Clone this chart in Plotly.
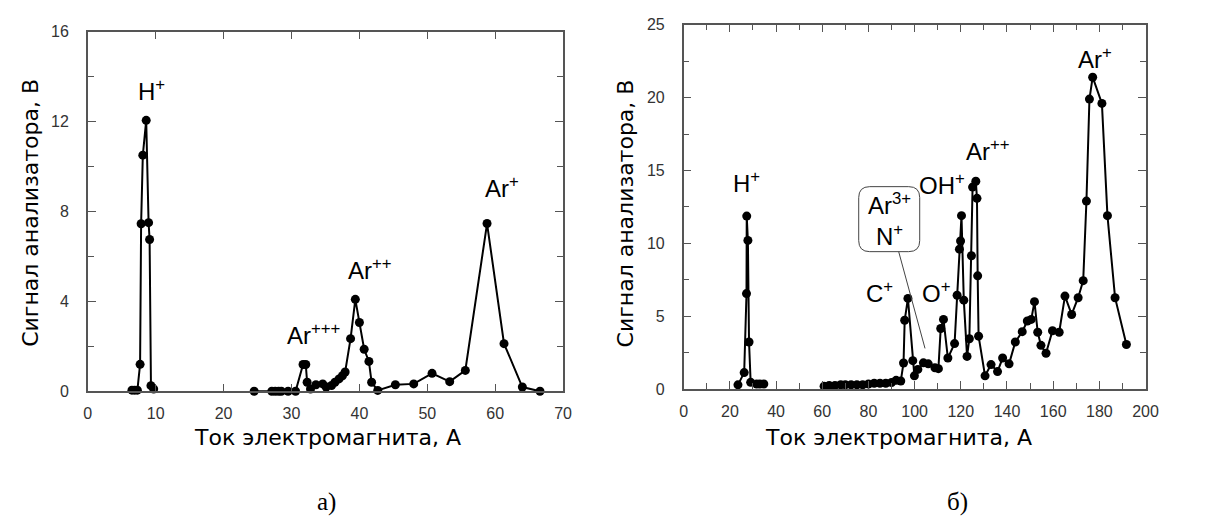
import plotly.graph_objects as go

# (а) spectrum: magnet current, A  vs  analyser signal, V
# None separates the two scanned current ranges
cur_a = [6.5, 6.9, 7.3, 7.7, 7.85, 8.1, 8.6, 8.95, 9.1, 9.3, 9.7, None,
         24.5, 27.1, 27.6, 28.1, 28.5, 29.5, 30.6, 31.7, 32.1, 32.3, 32.8,
         33.6, 34.6, 35.1, 35.9, 36.4, 37.0, 37.5, 37.9, 38.7, 39.4, 40.0,
         40.7, 41.4, 41.8, 42.7, 45.3, 48.0, 50.7, 53.3, 55.6, 58.8, 61.3,
         64.0, 66.6]
sig_a = [0.05, 0.05, 0.05, 1.2, 7.45, 10.5, 12.05, 7.5, 6.75, 0.25, 0.1, None,
         0.0, 0.0, 0.0, 0.0, 0.0, 0.0, 0.0, 1.19, 1.19, 0.4, 0.1,
         0.29, 0.33, 0.19, 0.26, 0.4, 0.55, 0.69, 0.86, 2.34, 4.09, 3.06,
         1.87, 1.33, 0.4, 0.04, 0.29, 0.33, 0.8, 0.43, 0.93, 7.46, 2.12,
         0.19, 0.0]

# (б) spectrum
cur_b = [23.5, 26.2, 27.2, 27.3, 27.8, 28.3, 29.0, 31.6, 33.0, 34.7, None,
         60.8, 63.0, 65.5, 68.0, 70.0, 72.5, 75.0, 77.5, 80.0, 82.5, 85.0,
         87.5, 90.0, 92.0, 94.0,
         95.2, 95.7, 97.1, 99.2, 99.9, 101.4, 103.8, 105.9, 108.8, 110.3,
         111.3, 112.5, 114.4, 117.3, 118.4, 119.4, 119.9, 120.3, 121.3,
         122.7, 123.7, 124.6, 125.1, 126.5, 127.0, 127.3, 127.7, 130.5,
         133.1, 135.9, 138.1, 140.9, 143.6, 146.6, 148.8, 150.5, 151.9,
         153.3, 154.7, 156.9, 159.7, 162.6, 165.1, 168.0, 170.8, 173.0,
         174.4, 175.7, 177.1, 181.1, 183.5, 186.8, 191.7]
sig_b = [0.29, 1.13, 6.55, 11.87, 10.2, 3.23, 0.46, 0.35, 0.35, 0.35, None,
         0.2, 0.25, 0.25, 0.3, 0.3, 0.3, 0.3, 0.3, 0.35, 0.4, 0.4,
         0.4, 0.45, 0.6, 0.55,
         1.79, 4.72, 6.22, 1.95, 0.91, 1.35, 1.8, 1.73, 1.46, 1.4,
         4.16, 4.78, 2.13, 3.12, 6.44, 9.6, 10.16, 11.9, 6.1,
         2.24, 3.45, 9.15, 13.86, 14.26, 13.09, 7.77, 3.63, 0.91,
         1.68, 1.2, 2.13, 1.73, 3.23, 3.94, 4.67, 4.78, 6.0,
         3.9, 3.0, 2.46, 4.0, 3.9, 6.38, 5.12, 6.27, 7.44,
         12.9, 19.9, 21.4, 19.6, 11.9, 6.27, 3.06]

# peak labels: (text, current, signal)
labels_a = [("H<sup>+</sup>", 9.4, 13.4), ("Ar<sup>+++</sup>", 33.2, 2.55),
            ("Ar<sup>++</sup>", 41.6, 5.42), ("Ar<sup>+</sup>", 61.0, 9.08)]
labels_b = [("H<sup>+</sup>", 27.3, 14.2), ("C<sup>+</sup>", 85.0, 6.67),
            ("O<sup>+</sup>", 109.2, 6.67), ("OH<sup>+</sup>", 112.0, 14.08),
            ("Ar<sup>++</sup>", 131.9, 16.4), ("Ar<sup>+</sup>", 178.2, 22.7)]
boxed_label = ("Ar<sup>3+</sup><br>N<sup>+</sup>", 89.0, 11.66)
leader = (93.1, 9.43, 104.5, 2.79)

FONT = "Arial, Liberation Sans, sans-serif"
TITLE_FONT = "DejaVu Sans, Verdana, sans-serif"
AX = "#555555"
W, H = 1219, 530

fig = go.Figure()
for xs, ys, xa, ya in [(cur_a, sig_a, "x", "y"), (cur_b, sig_b, "x2", "y2")]:
    fig.add_trace(go.Scatter(
        x=xs, y=ys, xaxis=xa, yaxis=ya, mode="lines+markers",
        line=dict(color="black", width=2),
        marker=dict(color="black", size=9),
        connectgaps=False, cliponaxis=False, showlegend=False,
        hoverinfo="skip"))

lab_font = dict(family=FONT, size=24, color="black")
ann = []
for txt, x, y in labels_a:
    ann.append(dict(text=txt, x=x, y=y, xref="x", yref="y", showarrow=False,
                    xanchor="center", yanchor="middle", font=lab_font))
for txt, x, y in labels_b:
    ann.append(dict(text=txt, x=x, y=y, xref="x2", yref="y2", showarrow=False,
                    xanchor="center", yanchor="middle", font=lab_font))
ann.append(dict(text=boxed_label[0], x=boxed_label[1], y=boxed_label[2],
                xref="x2", yref="y2", showarrow=False, xanchor="center",
                yanchor="middle", font=lab_font))

titles = dict(family=TITLE_FONT, size=22, color="black")

def paper_text(txt, px, py, font, angle=0):
    return dict(text=txt, x=px / W, y=1 - py / H, xref="paper", yref="paper",
                xanchor="center", yanchor="middle", showarrow=False,
                textangle=angle, font=font)

ann += [
    paper_text("Ток электромагнита, А", 328, 444, titles),
    paper_text("Ток электромагнита, А", 907, 444, titles),
    paper_text("Сигнал анализатора, В", 27, 212, titles, -90),
    paper_text("Сигнал анализатора, В", 630, 212, titles, -90),
]
serif = dict(family="Liberation Serif, Times New Roman, serif", size=25,
             color="black")
ann += [paper_text("а)", 327, 510, serif), paper_text("б)", 967, 510, serif)]

# rounded frame around the Ar3+/N+ label, sized in pixels around its centre
w, h, r = 61, 65, 11
hx, hy = w / 2, h / 2
box_path = (f"M {-hx + r},{hy} L {hx - r},{hy} Q {hx},{hy} {hx},{hy - r} "
            f"L {hx},{-hy + r} Q {hx},{-hy} {hx - r},{-hy} "
            f"L {-hx + r},{-hy} Q {-hx},{-hy} {-hx},{-hy + r} "
            f"L {-hx},{hy - r} Q {-hx},{hy} {-hx + r},{hy} Z")
shapes = [
    dict(type="path", xref="x2", yref="y2", xsizemode="pixel", ysizemode="pixel",
         xanchor=boxed_label[1], yanchor=boxed_label[2], path=box_path,
         line=dict(color="#444444", width=1)),
    dict(type="line", xref="x2", yref="y2", x0=leader[0], y0=leader[1],
         x1=leader[2], y1=leader[3], line=dict(color="#444444", width=1)),
]

def axis(rng, dtick, minor_dtick, domain, anchor, standoff):
    d = dict(range=rng, domain=domain, anchor=anchor, dtick=dtick, tick0=0,
             ticks="inside", ticklen=8, tickwidth=1, tickcolor=AX,
             showline=True, linecolor=AX, linewidth=1.5, mirror="allticks",
             showgrid=False, zeroline=False, fixedrange=True,
             ticklabelstandoff=standoff,
             tickfont=dict(family=FONT, size=16, color="#333333"))
    if minor_dtick:
        d["minor"] = dict(dtick=minor_dtick, tick0=0, ticks="inside",
                          ticklen=6, tickcolor=AX, showgrid=False)
    return d

fig.update_layout(
    width=W, height=H, margin=dict(l=0, r=0, t=0, b=0),
    paper_bgcolor="white", plot_bgcolor="white",
    xaxis=axis([0, 70], 10, None, [85 / W, 567 / W], "y", 7),
    yaxis=axis([0, 16], 4, 2, [1 - 396 / H, 1 - 24.3 / H], "x", 14),
    xaxis2=axis([0, 200], 20, 10, [689.3 / W, 1157.7 / W], "y2", 7),
    yaxis2=axis([0, 25], 5, 2.5, [1 - 393.7 / H, 1 - 17.3 / H], "x2", 14),
    annotations=ann, shapes=shapes,
)

fig.write_html("out.html")
